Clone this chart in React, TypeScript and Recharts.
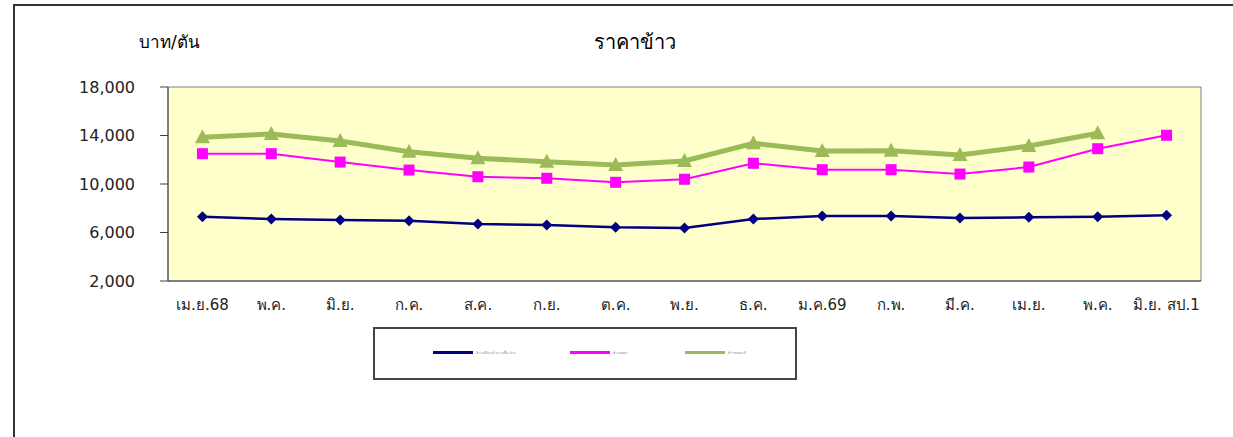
import React from "react";
import { LineChart, Line, XAxis, YAxis, ReferenceArea } from "recharts";

const months = [
  "เม.ย.68", "พ.ค.", "มิ.ย.", "ก.ค.", "ส.ค.", "ก.ย.", "ต.ค.", "พ.ย.",
  "ธ.ค.", "ม.ค.69", "ก.พ.", "มี.ค.", "เม.ย.", "พ.ค.", "มิ.ย. สป.1",
];
const paddyRice = [7300, 7110, 7030, 6970, 6700, 6620, 6430, 6370, 7110, 7360, 7360, 7200, 7250, 7300, 7420];
const stickyRice = [12500, 12500, 11810, 11150, 10600, 10470, 10140, 10390, 11710, 11180, 11180, 10820, 11400, 12910, 14020];
const jasmineRice = [13850, 14120, 13550, 12660, 12120, 11840, 11570, 11900, 13360, 12720, 12750, 12390, 13130, 14180, null];
const yTicks = [2000, 6000, 10000, 14000, 18000];
const seriesNames = ["ข้าวเปลือกเจ้าความชื้น 15%", "ข้าวเหนียว", "ข้าวหอมมะลิ"];

const data = months.map((m, i) => ({
  x: i + 0.5,
  month: m,
  a: paddyRice[i],
  b: stickyRice[i],
  c: jasmineRice[i],
}));

const bandTicks = months.map((_, i) => i).concat([months.length]);
const labelTicks = months.map((_, i) => i + 0.5);

const FONT = "Tahoma, 'DejaVu Sans', sans-serif";

const Diamond = (props: any) => {
  const { cx, cy, key } = props;
  if (cx == null || cy == null || props.value == null) return <g key={key} />;
  const r = 5.5;
  return (
    <path
      key={key}
      d={`M${cx},${cy - r}L${cx + r},${cy}L${cx},${cy + r}L${cx - r},${cy}Z`}
      fill="#000080"
    />
  );
};

const Square = (props: any) => {
  const { cx, cy, key } = props;
  if (cx == null || cy == null || props.value == null) return <g key={key} />;
  const s = 5.5;
  return <rect key={key} x={cx - s} y={cy - s} width={s * 2} height={s * 2} fill="#FF00FF" />;
};

const Triangle = (props: any) => {
  const { cx, cy, key } = props;
  if (cx == null || cy == null || props.value == null) return <g key={key} />;
  return (
    <path
      key={key}
      d={`M${cx},${cy - 8}L${cx + 7.5},${cy + 6}L${cx - 7.5},${cy + 6}Z`}
      fill="#9BBB59"
    />
  );
};

const colors = ["#000080", "#FF00FF", "#9BBB59"];
const legendX = [433, 570, 685];

export default function App() {
  return (
    <div style={{ position: "absolute", left: 0, top: 0, width: 1233, height: 437, overflow: "hidden", background: "#fff", fontFamily: FONT }}>
      <div
        style={{
          position: "absolute",
          left: 13,
          top: 4,
          width: 1300,
          height: 500,
          borderLeft: "2px solid #333",
          borderTop: "2px solid #333",
        }}
      />
      <div style={{ position: "absolute", left: 139, top: 28, fontSize: 17, color: "#000" }}>บาท/ตัน</div>
      <div style={{ position: "absolute", left: 585, top: 26, width: 100, textAlign: "center", fontSize: 20, color: "#000" }}>
        ราคาข้าว
      </div>
      <div style={{ position: "absolute", left: 0, top: 0 }}>
        <LineChart width={1233} height={437} data={data} margin={{ top: 87, right: 32, bottom: 120, left: 0 }}>
          <XAxis
            dataKey="x"
            type="number"
            domain={[0, months.length]}
            ticks={bandTicks}
            tick={false}
            tickSize={6}
            height={6}
            stroke="#404040"
            interval={0}
          />
          <XAxis
            xAxisId="labels"
            dataKey="x"
            type="number"
            domain={[0, months.length]}
            ticks={labelTicks}
            interval={0}
            axisLine={false}
            tickLine={false}
            tickSize={0}
            tickMargin={12}
            height={30}
            tickFormatter={(v: number) => months[Math.floor(v)]}
            tick={{ fill: "#222", fontSize: 15, fontFamily: FONT }}
          />
          <YAxis
            type="number"
            domain={[2000, 18000]}
            ticks={yTicks}
            width={168}
            tickSize={8}
            tickMargin={25}
            stroke="#404040"
            tickFormatter={(v: number) => v.toLocaleString("en-US")}
            tick={{ fill: "#222", fontSize: 16, fontFamily: FONT }}
          />
          <ReferenceArea
            x1={0}
            x2={months.length}
            y1={2000}
            y2={18000}
            fill="#FFFFCC"
            fillOpacity={1}
            stroke="#808080"
            strokeWidth={1}
          />
          <Line dataKey="c" name={seriesNames[2]} stroke="#9BBB59" strokeWidth={5} dot={<Triangle />} isAnimationActive={false} />
          <Line dataKey="b" name={seriesNames[1]} stroke="#FF00FF" strokeWidth={2} dot={<Square />} isAnimationActive={false} />
          <Line dataKey="a" name={seriesNames[0]} stroke="#000080" strokeWidth={2.5} dot={<Diamond />} isAnimationActive={false} />
        </LineChart>
      </div>
      <div
        style={{
          position: "absolute",
          left: 373,
          top: 327,
          width: 420,
          height: 49,
          border: "2px solid #444",
          background: "#fff",
        }}
      />
      {seriesNames.map((n, i) => (
        <div key={n} style={{ position: "absolute", left: legendX[i], top: 350, display: "flex", alignItems: "center", height: 5 }}>
          <div style={{ width: 40, height: 3, background: colors[i] }} />
          <span style={{ fontSize: 3, color: "#888", marginLeft: 3, whiteSpace: "nowrap" }}>{n}</span>
        </div>
      ))}
    </div>
  );
}
